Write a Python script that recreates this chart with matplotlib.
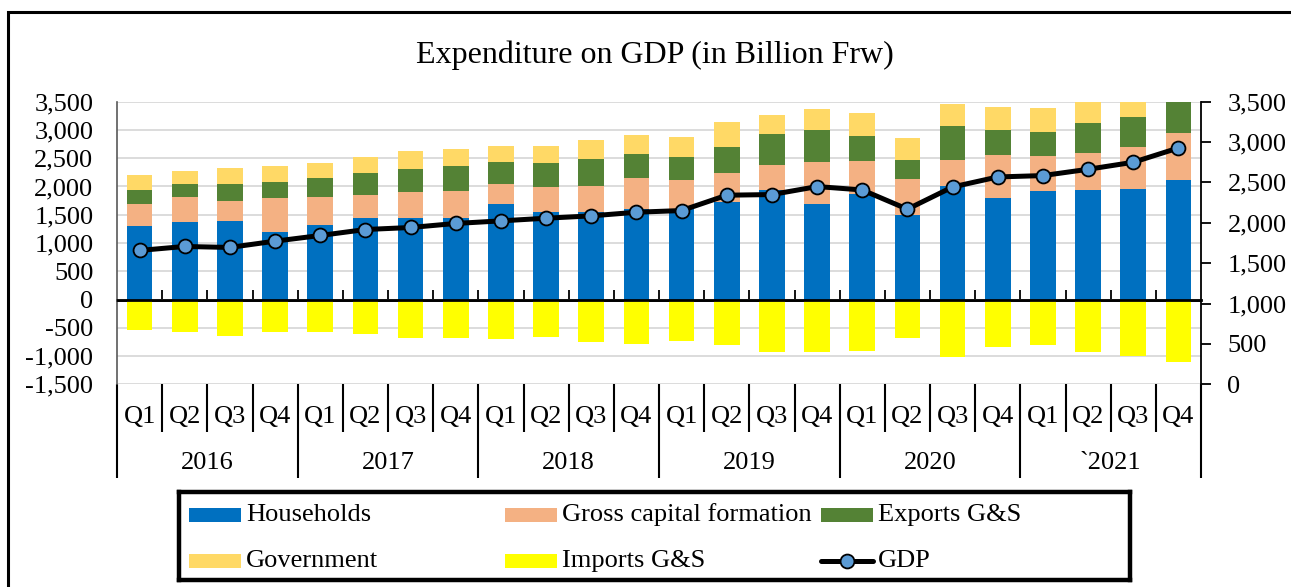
import matplotlib
matplotlib.use("Agg")
import matplotlib.pyplot as plt
import matplotlib.patches as mpatches
from matplotlib.lines import Line2D
import numpy as np

plt.rcParams['font.family'] = ['Liberation Serif', 'DejaVu Serif']

years = ["2016", "2017", "2018", "2019", "2020", "`2021"]
quarters = ["Q1", "Q2", "Q3", "Q4"]

households = [1306, 1371, 1389, 1194, 1312, 1448, 1448, 1436, 1695, 1548, 1548, 1601,
              1595, 1719, 1937, 1689, 1860, 1495, 2002, 1802, 1919, 1937, 1949, 2114]
gcf = [389, 442, 359, 608, 495, 407, 454, 489, 342, 448, 460, 543,
       513, 525, 437, 744, 590, 643, 460, 748, 620, 655, 755, 832]
exports = [236, 230, 295, 277, 342, 383, 401, 437, 396, 419, 483, 436,
           419, 454, 560, 572, 448, 336, 613, 449, 424, 536, 525, 600]
government = [272, 236, 283, 277, 272, 283, 318, 300, 283, 295, 337, 330,
              348, 442, 336, 365, 407, 377, 378, 412, 419, 470, 515, 481]
imports = [-545, -581, -640, -581, -581, -616, -681, -681, -699, -669, -758, -781,
           -734, -805, -923, -923, -911, -687, -1017, -846, -811, -935, -994, -1100]
gdp = [1658, 1707, 1695, 1773, 1843, 1917, 1942, 1992, 2024, 2057, 2086, 2131,
       2152, 2342, 2350, 2449, 2407, 2169, 2444, 2568, 2585, 2663, 2750, 2927]

left_ticks = [-1500, -1000, -500, 0, 500, 1000, 1500, 2000, 2500, 3000, 3500]
right_ticks = [0, 500, 1000, 1500, 2000, 2500, 3000, 3500]

c_house = "#0070C0"
c_gcf = "#F4B183"
c_exp = "#548235"
c_gov = "#FFD966"
c_imp = "#FFFF00"
c_gdp = "#5B9BD5"

W, H = 1291, 587
fig = plt.figure(figsize=(W / 100, H / 100), dpi=100)
fig.patch.set_facecolor("white")

ax = fig.add_axes([117 / W, 1 - 384.3 / H, (1201 - 117) / W, 282.6 / H])
n = len(households)
x = np.arange(n)
bw = 0.57

h = np.array(households)
g = np.array(gcf)
e = np.array(exports)
gv = np.array(government)
ax.bar(x, h, bw, color=c_house, zorder=2)
ax.bar(x, g, bw, bottom=h, color=c_gcf, zorder=2)
ax.bar(x, e, bw, bottom=h + g, color=c_exp, zorder=2)
ax.bar(x, gv, bw, bottom=h + g + e, color=c_gov, zorder=2)
ax.bar(x, imports, bw, color=c_imp, zorder=2)

ax.set_xlim(-0.5, n - 0.5)
ax.set_ylim(-1500, 3500)
ax.set_yticks(left_ticks)
ax.set_yticklabels([f"{v:,}" for v in left_ticks])
ax.tick_params(axis='y', length=0, pad=17, labelsize=19)
ax.set_xticks([])
ax.yaxis.grid(True, color="#d9d9d9", linewidth=1.3, zorder=0)
ax.set_axisbelow(True)
for s in ["top", "right", "bottom"]:
    ax.spines[s].set_visible(False)
ax.spines["left"].set_color("#595959")
ax.spines["left"].set_linewidth(1.2)

# zero line with inward category ticks
ax.axhline(0, color="black", linewidth=2, zorder=3)
sec = ax.secondary_xaxis(0.3)
sec.set_xticks([i + 0.5 for i in range(n - 1)])
sec.tick_params(axis='x', direction='in', length=7, width=1.3, labelbottom=False)
sec.spines["bottom"].set_linewidth(2)
sec.spines["bottom"].set_color("black")

# multi-level category labels
tr = ax.get_xaxis_transform()
for i in range(n):
    ax.text(i, -0.1157, quarters[i % 4], transform=tr, ha="center", va="center", fontsize=19)
for k, yr in enumerate(years):
    ax.text(k * 4 + 1.5, -0.2785, yr, transform=tr, ha="center", va="center", fontsize=19)
for b in range(n + 1):
    bx = b - 0.5
    yend = -0.3316 if b % 4 == 0 else -0.169
    ax.plot([bx, bx], [0, yend], transform=tr, color="black", linewidth=1.5,
            clip_on=False, solid_capstyle="butt")

# GDP line on right axis
ax2 = ax.twinx()
ax2.plot(x, gdp, color="black", linewidth=3.6, marker="o", markersize=10,
         markerfacecolor=c_gdp, markeredgecolor="black", markeredgewidth=1.3, zorder=5)
ax2.set_ylim(0, 3500)
ax2.set_yticks(right_ticks)
ax2.set_yticklabels([f"{v:,}" for v in right_ticks])
ax2.tick_params(axis='y', direction='out', length=7, width=1.3, pad=12, labelsize=19)
for s in ["top", "left", "bottom"]:
    ax2.spines[s].set_visible(False)
ax2.spines["right"].set_color("black")
ax2.spines["right"].set_linewidth(1.3)

# title
fig.text(655 / W, 1 - 55 / H, "Expenditure on GDP (in Billion Frw)", ha="center",
         va="center", fontsize=23)

# legend drawn manually
lax = fig.add_axes([179 / W, 1 - 580 / H, 951 / W, 88 / H])
lax.set_xlim(0, 951)
lax.set_ylim(88, 0)
lax.set_xticks([])
lax.set_yticks([])
for s in lax.spines.values():
    s.set_linewidth(3.2)
    s.set_color("black")

legend_items = [
    ("Households", c_house, 10, 23),
    ("Gross capital formation", c_gcf, 326, 23),
    ("Exports G&S", c_exp, 642, 23),
    ("Government", c_gov, 10, 69),
    ("Imports G&S", c_imp, 326, 69),
]
for label, col, lx, ly in legend_items:
    lax.add_patch(mpatches.Rectangle((lx, ly - 7), 52, 14, facecolor=col, edgecolor="none"))
    lax.text(lx + 57, ly, label, ha="left", va="center", fontsize=19)
lax.add_line(Line2D([642, 694], [69, 69], color="black", linewidth=3.6,
                    solid_capstyle="round"))
lax.add_line(Line2D([668], [69], marker="o", markersize=10, markerfacecolor=c_gdp,
                    markeredgecolor="black", markeredgewidth=1.3, linestyle="none"))
lax.text(699, 69, "GDP", ha="left", va="center", fontsize=19)

# outer frame
fig.add_artist(mpatches.Rectangle((8 / W, -0.1), 2, 1.1 - 12 / H, transform=fig.transFigure,
                                  fill=False, edgecolor="black", linewidth=2.2))

fig.savefig("out.png", dpi=100)
